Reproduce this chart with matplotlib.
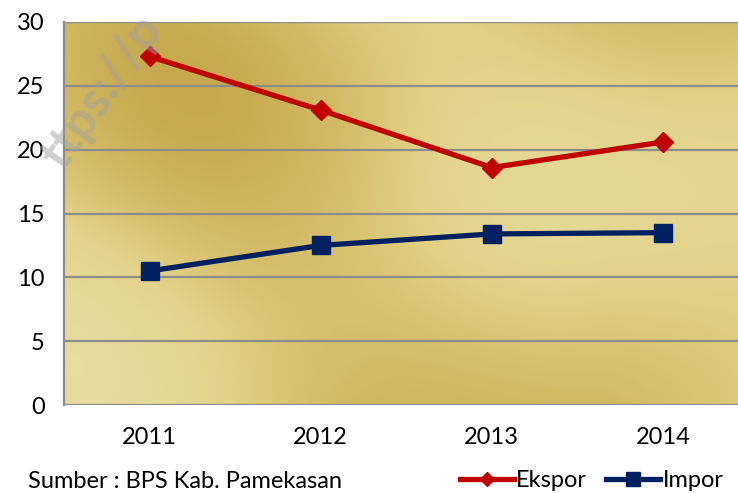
import numpy as np
import matplotlib
matplotlib.use("Agg")
import matplotlib.pyplot as plt
from matplotlib.colors import LinearSegmentedColormap

years = ["2011", "2012", "2013", "2014"]
ekspor = [27.3, 23.1, 18.6, 20.6]
impor = [10.5, 12.5, 13.4, 13.5]
yticks = [0, 5, 10, 15, 20, 25, 30]
source_text = "Sumber : BPS Kab. Pamekasan"

plt.rcParams['font.family'] = ['Lato', 'DejaVu Sans']

fig = plt.figure(figsize=(7.38, 4.93), dpi=100)
ax = fig.add_axes([64/738, 88/493, 684.5/738, 383/493])

# gold textured background (smooth deterministic pattern)
gx, gy = np.meshgrid(np.linspace(0, 1, 300), np.linspace(0, 1, 200))
field = (0.5 + 0.25*np.sin(6*gx + 3*gy + 1.0) + 0.2*np.sin(3*gx - 5*gy + 2.0)
         + 0.15*np.cos(9*gx + 2*gy))
field += 0.35*np.clip((gx - 0.8)*3*(1 - gy), 0, 1)
field = (field - field.min())/(field.max() - field.min())
cmap = LinearSegmentedColormap.from_list("gold", ["#c6a94e", "#d3bb66", "#e3d38a", "#e6dca0"])
ax.imshow(field, extent=[-0.5, 3.5, 0, 30], aspect='auto', cmap=cmap, zorder=0, origin='lower')

x = np.arange(len(years))
ax.plot(x, ekspor, color="#c00000", lw=3.8, marker='D', markersize=10, label="Ekspor", zorder=3)
ax.plot(x, impor, color="#002060", lw=3.8, marker='s', markersize=13, label="Impor", zorder=3)

ax.set_xlim(-0.5, 3.5)
ax.set_ylim(0, 30)
ax.set_yticks(yticks)
ax.set_xticks(x)
ax.set_xticklabels(years)
ax.tick_params(axis='both', length=0, labelsize=17, colors='black')
ax.tick_params(axis='y', pad=14)
ax.tick_params(axis='x', pad=16)
ax.yaxis.grid(True, color="#8c8c8c", lw=1.6, zorder=1)
ax.set_axisbelow(False)
for s in ['top', 'right', 'bottom']:
    ax.spines[s].set_visible(False)
ax.spines['left'].set_color("#8c8c8c")
ax.spines['left'].set_linewidth(1.6)
ax.axhline(30, color="#8c8c8c", lw=1.6, zorder=1)

# watermark (faint)
fig.text(102/738, 1 - 92/493, "ttps://p", rotation=55, fontsize=36, color="#a0a0a0",
         alpha=0.5, fontweight='bold', ha='center', va='center', zorder=2)

fig.text(28/738, 1 - 481/493, source_text, fontsize=17, va='center', ha='left')
leg = fig.legend(loc='center right', bbox_to_anchor=(1.0, 1 - 481/493), ncol=2,
                 frameon=False, fontsize=17, handlelength=2.3, columnspacing=0.8,
                 handletextpad=0.1, markerscale=0.75, borderaxespad=0.2)

fig.savefig("out.png", dpi=100)
